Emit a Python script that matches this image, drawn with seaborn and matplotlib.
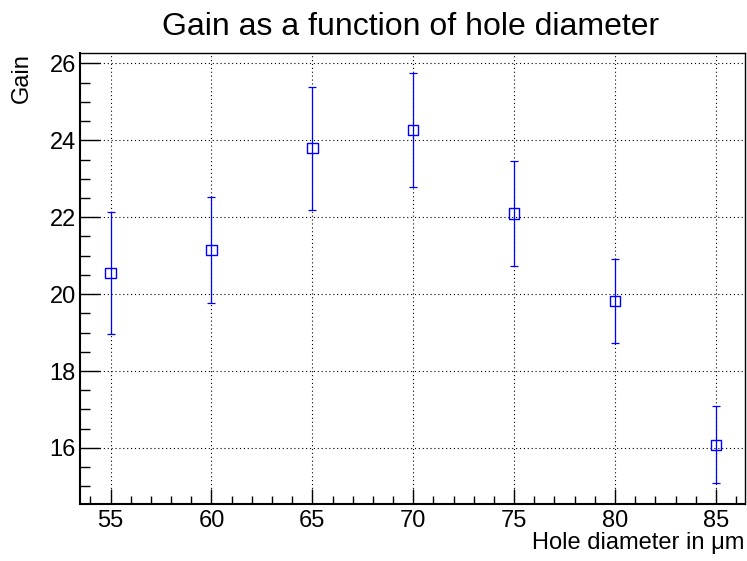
import matplotlib
matplotlib.use('Agg')
import matplotlib.pyplot as plt
import seaborn as sns
import pandas as pd
from matplotlib.ticker import MultipleLocator

# values
hole_diameter = [55, 60, 65, 70, 75, 80, 85]
gain = [20.55, 21.15, 23.8, 24.27, 22.1, 19.82, 16.08]
gain_err = [1.58, 1.37, 1.6, 1.48, 1.36, 1.1, 1.0]

df = pd.DataFrame({'diameter': hole_diameter, 'gain': gain, 'err': gain_err})

sns.set_theme(style='white')
plt.rcParams['font.family'] = ['Liberation Sans', 'DejaVu Sans']

fig = plt.figure(figsize=(7.47, 5.61), dpi=100)
ax = fig.add_axes([0.107, 0.1016, 0.89, 0.8044])

ax.errorbar(df['diameter'], df['gain'], yerr=df['err'], fmt='none',
            ecolor='#0000ff', elinewidth=0.9, capsize=3, capthick=0.9, zorder=3)
sns.scatterplot(data=df, x='diameter', y='gain', marker='s', s=55,
                facecolor='none', edgecolor='#0000ff', linewidth=1.0, ax=ax, zorder=4)

ax.set_xlim(53.48, 86.43)
ax.set_ylim(14.54, 26.28)
ax.xaxis.set_major_locator(MultipleLocator(5))
ax.xaxis.set_minor_locator(MultipleLocator(1))
ax.yaxis.set_major_locator(MultipleLocator(2))
ax.yaxis.set_minor_locator(MultipleLocator(0.5))

ax.grid(True, which='major', color='black', linestyle=(0, (1, 2.5)), linewidth=0.8)
ax.tick_params(axis='x', which='major', direction='in', length=11, width=1,
               color='black', labelcolor='black', labelsize=17, pad=4, top=False, bottom=True)
ax.tick_params(axis='x', which='minor', direction='in', length=5.5, width=1,
               color='black', top=False, bottom=True)
ax.tick_params(axis='y', which='major', direction='in', length=14.5, width=1,
               color='black', labelcolor='black', labelsize=17, pad=3, right=False, left=True)
ax.tick_params(axis='y', which='minor', direction='in', length=7.2, width=1,
               color='black', right=False, left=True)

for sp in ax.spines.values():
    sp.set_color('black')
    sp.set_linewidth(1.0)
ax.spines['left'].set_linewidth(1.5)
ax.spines['bottom'].set_linewidth(1.5)

ax.set_xlabel('Hole diameter in μm', fontsize=17, loc='right', labelpad=0, color='black')
ax.set_ylabel('Gain', fontsize=17, loc='top', labelpad=12, color='black')
fig.suptitle('Gain as a function of hole diameter', fontsize=23, x=0.5495, y=0.979,
             va='top', color='black')

fig.savefig('out.png', dpi=100)
